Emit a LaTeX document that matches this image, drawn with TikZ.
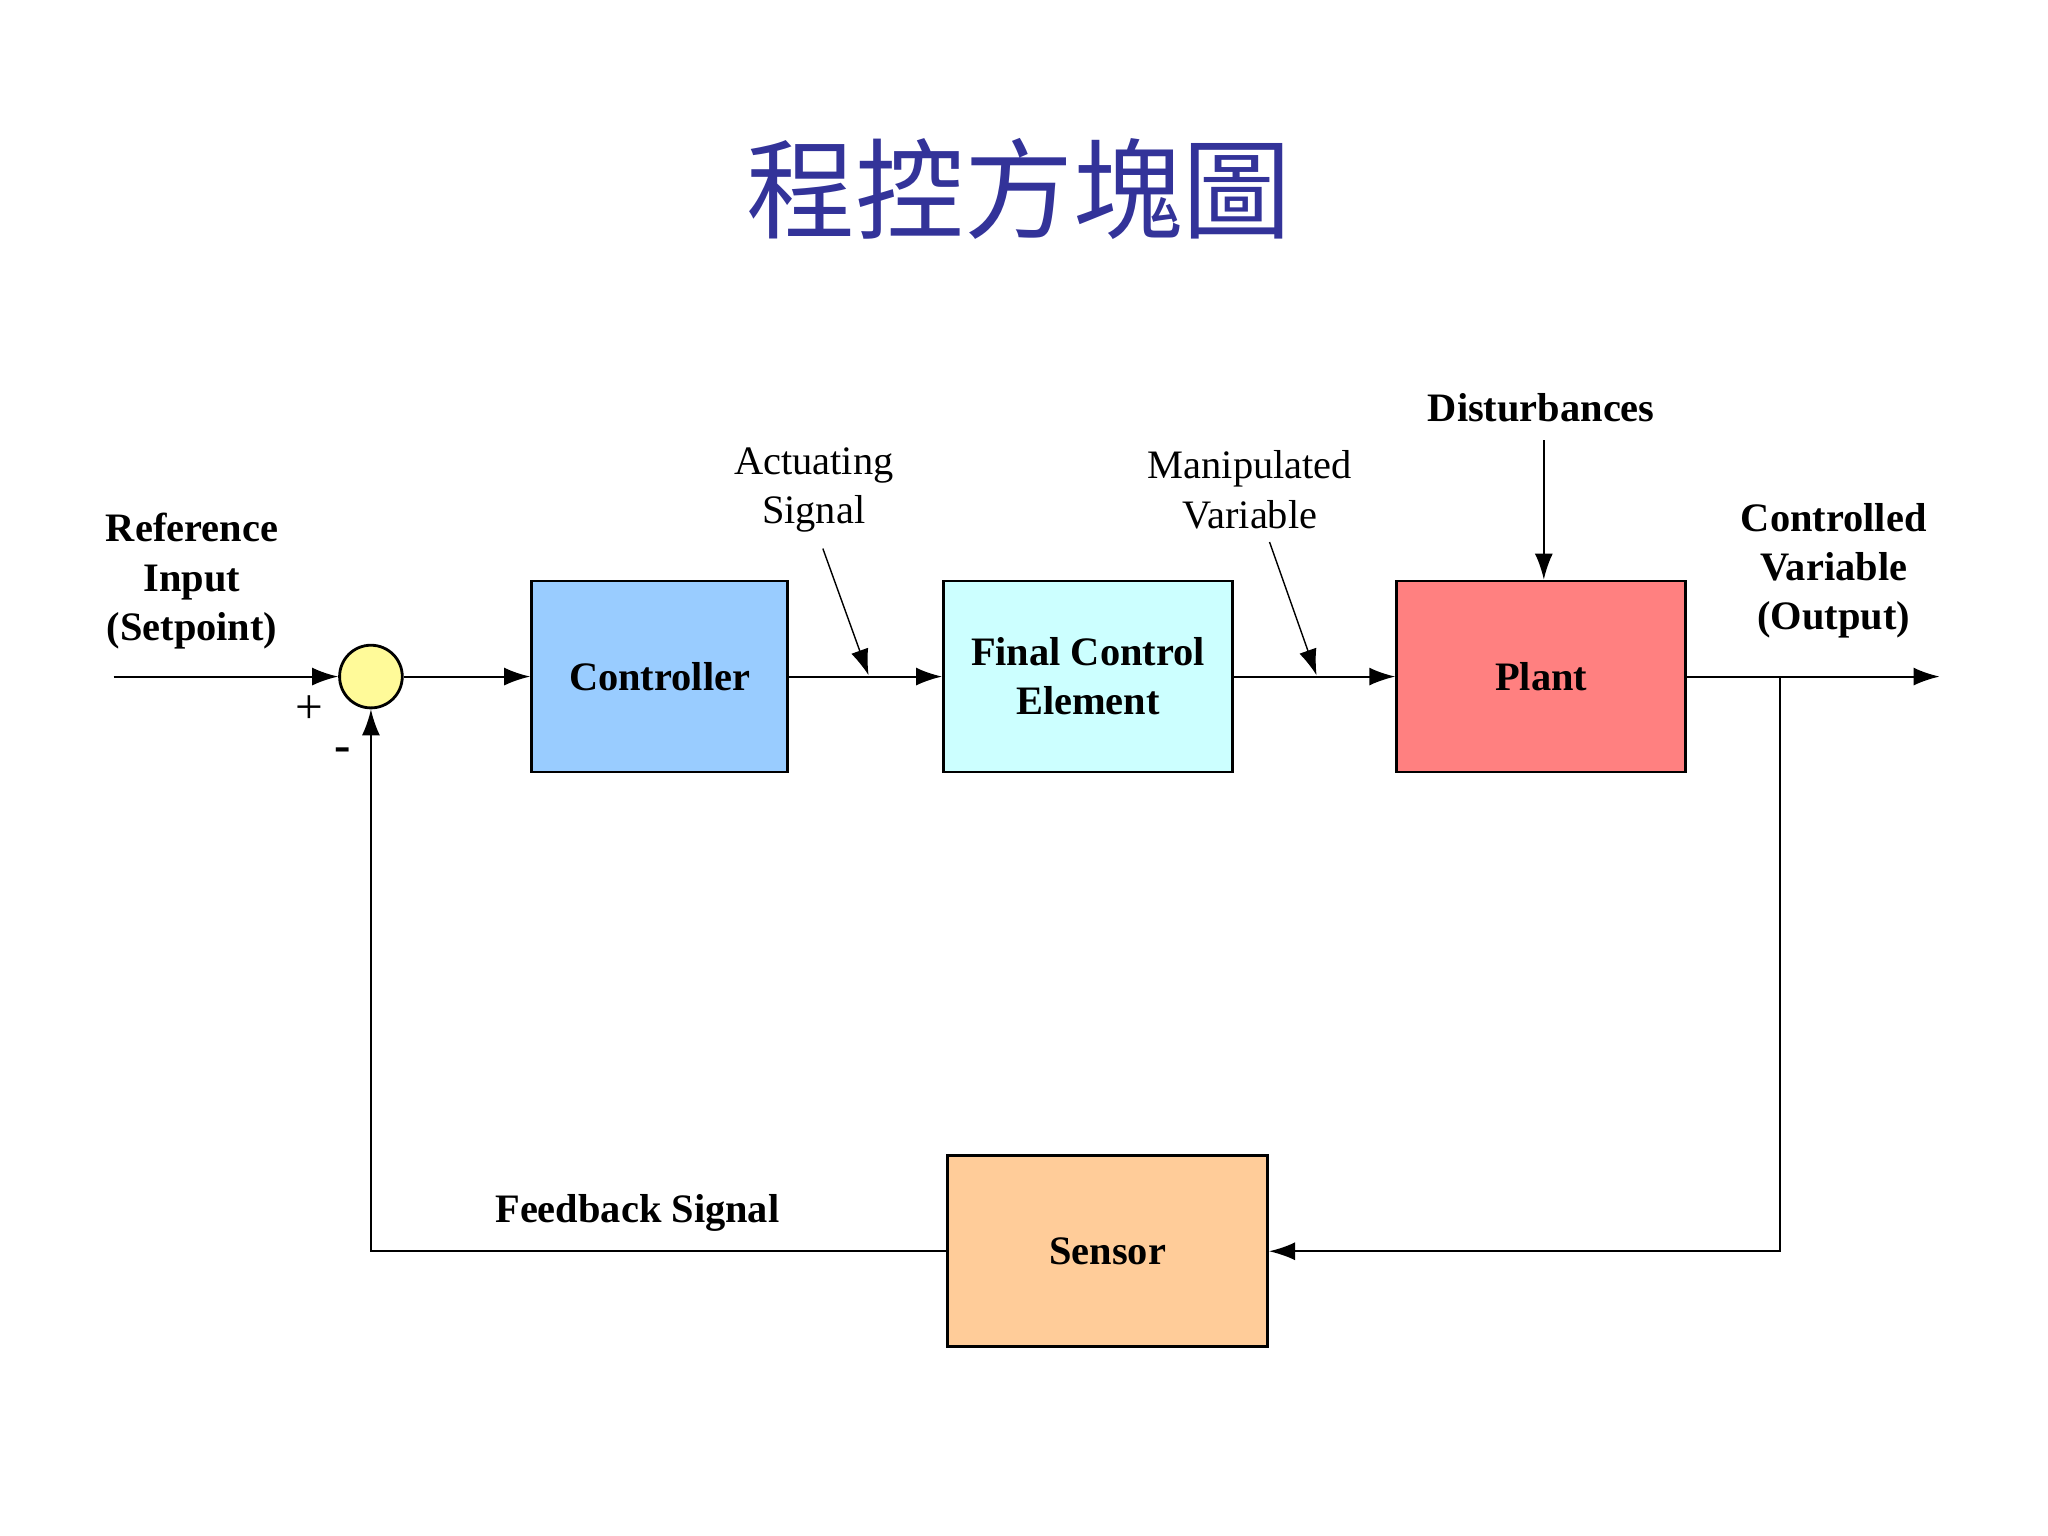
\documentclass[tikz,border=0pt]{standalone}
\usepackage{fontspec}
\setmainfont{Liberation Serif}
\newfontfamily\cjk{Noto Sans CJK TC}
\usetikzlibrary{arrows.meta}
\definecolor{titleblue}{RGB}{51,51,153}
\definecolor{ctrlblue}{RGB}{153,204,255}
\definecolor{fcecyan}{RGB}{204,255,255}
\definecolor{plantred}{RGB}{255,128,128}
\definecolor{sensororange}{RGB}{255,204,153}
\tikzset{
  blk/.style={draw, thick, font=\fontsize{11.5}{14}\selectfont\bfseries, align=center, inner sep=0pt},
  lbl/.style={font=\fontsize{11.5}{14}\selectfont\bfseries, align=center},
  thin lbl/.style={font=\fontsize{11.5}{14}\selectfont, align=center},
  sig/.style={-{Latex[length=2.6mm,width=1.8mm]}, semithick}
}
\begin{document}
\begin{tikzpicture}[x=0.013061cm, y=-0.013061cm]
    \useasboundingbox (0,0) rectangle (1568,1176);
    \node[text=titleblue, font=\cjk\fontsize{31}{36}\selectfont] (title) at (780,145) {程控方塊圖};
    \node[draw, thick, circle, fill=yellow!40, minimum size=0.627cm, inner sep=0pt] (sum) at (284,518) {};
    \node[blk, fill=ctrlblue, minimum width=2.56cm, minimum height=1.91cm] (ctrl) at (505,518) {Controller};
    \node[blk, fill=fcecyan, minimum width=2.89cm, minimum height=1.91cm] (fce) at (833,518) {Final Control\\Element};
    \node[blk, fill=plantred, minimum width=2.89cm, minimum height=1.91cm] (plant) at (1180,518) {Plant};
    \node[blk, fill=sensororange, minimum width=3.2cm, minimum height=1.91cm] (sensor) at (848,958) {Sensor};
    % labels
    \node[lbl] (ref) at (147,445) {Reference\\Input\\(Setpoint)};
    \node[lbl] (cv) at (1404,437) {Controlled\\Variable\\(Output)};
    \node[lbl] (dist) at (1180,312) {Disturbances};
    \node[lbl] (fb) at (488,929) {Feedback Signal};
    \node[thin lbl] (act) at (623,375) {Actuating\\Signal};
    \node[thin lbl] (man) at (957,375) {Manipulated\\Variable};
    \node[font=\fontsize{14}{14}\selectfont] (plus) at (237,543) {+};
    \node[font=\fontsize{14}{14}\selectfont\bfseries] (minus) at (262,578) {-};
    % free ends
    \coordinate (in) at (87,518);
    \coordinate (out) at (1485,518);
    \coordinate (tap) at (1363,518);
    \coordinate (dtop) at (1182,337);
    \coordinate (a1) at (630,420);
    \coordinate (a2) at (665,517);
    \coordinate (m1) at (972,415);
    \coordinate (m2) at (1008,517);
    % connectors
    \draw[sig] (in) -- (sum);
    \draw[sig] (sum) -- (ctrl);
    \draw[sig] (ctrl) -- (fce);
    \draw[sig] (fce) -- (plant);
    \draw[sig] (plant) -- (out);
    \draw[sig] (dtop) -- (plant.north -| dtop);
    \draw[sig] (tap) |- (sensor);
    \draw[sig] (sensor) -| (sum);
    \draw[sig, thin] (a1) -- (a2);
    \draw[sig, thin] (m1) -- (m2);
\end{tikzpicture}
\end{document}
